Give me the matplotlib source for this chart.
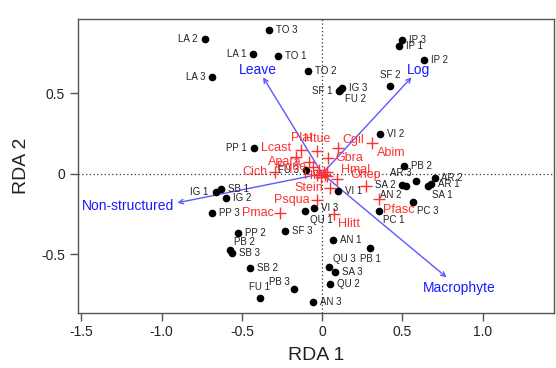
import numpy as np
import matplotlib.pyplot as plt

plt.rcParams["font.family"] = ["Liberation Sans", "DejaVu Sans"]

# site scores (RDA 1, RDA 2)
site_names = ["TO 3", "LA 2", "LA 1", "TO 1", "LA 3", "TO 2", "IP 3", "IP 1", "IP 2",
              "SF 2", "SF 1", "IG 3", "FU 2", "VI 2", "PP 1", "PB 2", "AR 3", "AR 2",
              "AR 1", "SA 1", "SA 2", "AN 2", "PC 3", "PC 1", "VI 1", "FU 3", "SB 1",
              "IG 1", "IG 2", "PP 3", "VI 3", "QU 1", "PP 2", "SF 3", "PB 2", "SB 3",
              "SB 2", "FU 1", "PB 3", "AN 1", "PB 1", "QU 3", "SA 3", "QU 2", "AN 3"]
site_x = [-0.333, -0.732, -0.431, -0.275, -0.686, -0.086, 0.498, 0.478, 0.633,
          0.421, 0.105, 0.122, 0.114, 0.361, -0.426, 0.511, 0.584, 0.700,
          0.680, 0.661, 0.500, 0.521, 0.567, 0.355, 0.097, -0.102, -0.628,
          -0.663, -0.601, -0.684, -0.050, -0.104, -0.526, -0.233, -0.576, -0.562,
          -0.451, -0.389, -0.177, 0.066, 0.301, 0.043, 0.079, 0.047, -0.057]
site_y = [0.895, 0.841, 0.745, 0.733, 0.600, 0.639, 0.832, 0.795, 0.708,
          0.546, 0.517, 0.536, 0.523, 0.245, 0.158, 0.050, -0.044, -0.025,
          -0.067, -0.077, -0.072, -0.077, -0.176, -0.230, -0.106, 0.023, -0.093,
          -0.112, -0.149, -0.247, -0.215, -0.230, -0.371, -0.355, -0.475, -0.492,
          -0.585, -0.774, -0.720, -0.413, -0.463, -0.579, -0.614, -0.687, -0.797]
site_pos = ["r", "l", "l", "r", "l", "r", "r", "r", "r",
            "a", "l", "r", "br", "r", "l", "r", "al", "r",
            "r", "br", "l", "bl", "br", "br", "r", "l", "r",
            "l", "r", "r", "r", "br", "r", "r", "ar", "r",
            "r", "a", "al", "r", "b", "ar", "r", "r", "r"]

# species scores
species_names = ["Plat", "Htue", "Cgil", "Abim", "Lcast", "Gbra", "Apara", "Pque",
                 "Hmal", "Ohep", "Stein", "Psqua", "Pmac", "Hlitt", "Pfasc", "Cich", "Hit"]
species_x = [-0.129, -0.032, 0.100, 0.313, -0.165, 0.037, -0.084, -0.059,
             0.091, 0.270, 0.047, -0.032, -0.260, 0.074, 0.351, -0.296, 0.029]
species_y = [0.148, 0.141, 0.157, 0.193, 0.104, 0.098, 0.073, 0.039,
             -0.033, -0.077, -0.089, -0.164, -0.243, -0.251, -0.160, 0.009, -0.014]
species_pos = ["a", "a", "ar", "br", "al", "r", "l", "l",
               "ar", "a", "l", "l", "l", "br", "br", "l", "l"]
# crowded species right at the origin
centre_x = [0.01, -0.02, 0.02, -0.01, 0.03, -0.03]
centre_y = [0.01, 0.02, -0.01, -0.02, 0.01, -0.01]

# environmental arrows
env_names = ["Leave", "Log", "Non-structured", "Macrophyte"]
env_x = [-0.368, 0.557, -0.902, 0.775]
env_y = [0.600, 0.600, -0.181, -0.645]

offsets = {
    "r": (5, 0, "left", "center"),
    "l": (-5, 0, "right", "center"),
    "a": (0, 4, "center", "bottom"),
    "b": (0, -4, "center", "top"),
    "ar": (3, 2, "left", "bottom"),
    "br": (3, -3, "left", "top"),
    "al": (-3, 2, "right", "bottom"),
    "bl": (-3, -3, "right", "top"),
}

fig = plt.figure(figsize=(5.56, 3.68), dpi=100)
ax = fig.add_axes([0.1394, 0.1508, 0.857, 0.7976])

ax.axhline(0, color="#333333", lw=0.9, ls=(0, (1, 2)), zorder=1)
ax.axvline(0, color="#333333", lw=0.9, ls=(0, (1, 2)), zorder=1)

# sites
ax.plot(site_x, site_y, "o", color="black", ms=4.5, zorder=3)
for n, x, y, p in zip(site_names, site_x, site_y, site_pos):
    dx, dy, ha, va = offsets[p]
    ax.annotate(n, (x, y), xytext=(dx, dy), textcoords="offset points",
                ha=ha, va=va, fontsize=7, color="#222222", zorder=4)

# species
red = "#ff3030"
ax.plot(species_x, species_y, "+", color=red, ms=8, mew=1, zorder=3)
ax.plot(centre_x, centre_y, "+", color=red, ms=8, mew=1, zorder=3)
for n, x, y, p in zip(species_names, species_x, species_y, species_pos):
    dx, dy, ha, va = offsets[p]
    ax.annotate(n, (x, y), xytext=(dx, dy), textcoords="offset points",
                ha=ha, va=va, fontsize=9, color=red, zorder=4)

# arrows
blue_line = "#5a5aff"
for n, x, y in zip(env_names, env_x, env_y):
    ax.annotate("", xy=(x, y), xytext=(0, 0),
                arrowprops=dict(arrowstyle="->", color=blue_line, lw=1,
                                shrinkA=0, shrinkB=0, mutation_scale=8),
                zorder=2)
    if n == "Non-structured":
        ax.annotate(n, (x, y), xytext=(-2, -2), textcoords="offset points",
                    ha="right", va="center", fontsize=10, color="#1a1aff")
    else:
        k = 1.1 if n == "Macrophyte" else 1.08
        ax.text(x * k, y * k, n, ha="center", va="center",
                fontsize=10, color="#1a1aff")

ax.set_xlim(-1.524, 1.444)
ax.set_ylim(-0.864, 0.963)
ax.set_xticks([-1.5, -1.0, -0.5, 0, 0.5, 1.0])
ax.set_xticklabels(["-1.5", "-1.0", "-0.5", "0", "0.5", "1.0"])
ax.set_yticks([-0.5, 0, 0.5])
ax.set_yticklabels(["-0.5", "0", "0.5"])
ax.tick_params(direction="out", length=6, width=1, color="#555555",
               labelsize=10, labelcolor="#222222", pad=3)
for s in ax.spines.values():
    s.set_color("#555555")
    s.set_linewidth(1)

ax.set_xlabel("RDA 1", fontsize=14, color="#222222", labelpad=6)
ax.set_ylabel("RDA 2", fontsize=14, color="#222222", labelpad=8)

fig.savefig("out.png", dpi=100)
